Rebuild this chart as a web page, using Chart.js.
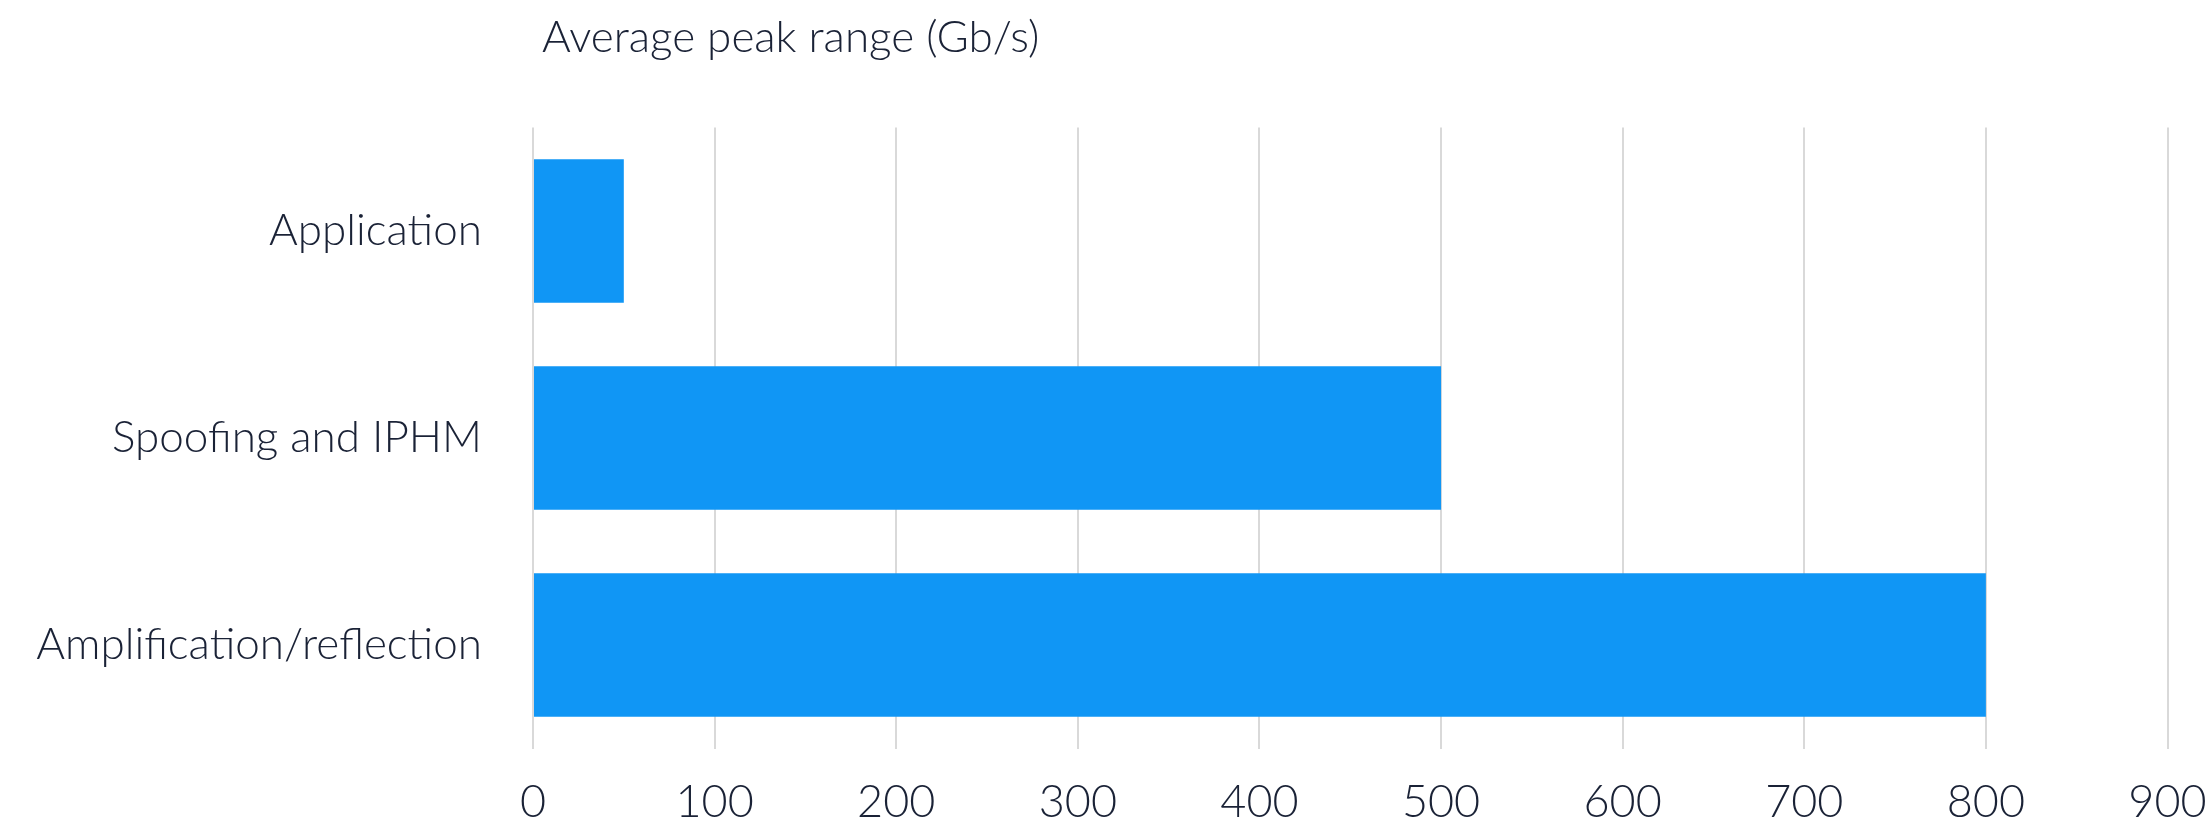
<!DOCTYPE html>
<html><head><meta charset="utf-8">
<script src="https://cdn.jsdelivr.net/npm/chart.js@4/dist/chart.umd.min.js"></script>
<style>html,body{margin:0;padding:0;background:#fff;}#wrap{width:2207px;height:827px;}</style>
</head><body><div id="wrap"><canvas id="c" width="2207" height="827"></canvas></div>
<script>
const categories = ['Application', 'Spoofing and IPHM', 'Amplification/reflection'];
const peakRange = [50, 500, 800];
const xTicks = [0, 100, 200, 300, 400, 500, 600, 700, 800, 900];
const titleText = 'Average peak range (Gb/s)';

const textColor = '#1a2236';
const fontFamily = 'Lato, "Open Sans", sans-serif';

const titlePlugin = {
  id: 'topTitle',
  afterDraw(chart) {
    const ctx = chart.ctx;
    ctx.save();
    ctx.font = '300 44px ' + fontFamily;
    ctx.fillStyle = textColor;
    ctx.textBaseline = 'alphabetic';
    ctx.textAlign = 'left';
    ctx.fillText(titleText, chart.chartArea.left + 9, 52);
    ctx.restore();
  }
};

new Chart(document.getElementById('c'), {
  type: 'bar',
  data: {
    labels: categories,
    datasets: [{
      data: peakRange,
      backgroundColor: '#1096f5',
      borderWidth: 0,
      barPercentage: 0.693,
      categoryPercentage: 1
    }]
  },
  options: {
    indexAxis: 'y',
    responsive: false,
    animation: false,
    layout: { padding: { top: 127.5, right: 39.5, bottom: 0, left: 0 } },
    plugins: { legend: { display: false }, tooltip: { enabled: false }, title: { display: false } },
    scales: {
      x: {
        type: 'linear',
        min: 0,
        max: 900,
        afterBuildTicks: s => { s.ticks = xTicks.map(v => ({ value: v })); },
        afterFit: s => { s.height = 78.5; s.paddingLeft = 0; s.paddingRight = 0; },
        grid: { color: '#d9d9d9', lineWidth: 2, drawTicks: false },
        border: { display: false },
        ticks: { color: textColor, padding: 27, font: { family: fontFamily, size: 45, weight: 300 } }
      },
      y: {
        afterFit: s => { s.width = 533; s.paddingTop = 0; s.paddingBottom = 0; },
        grid: { display: false },
        border: { display: false },
        ticks: { color: textColor, padding: 43, font: { family: fontFamily, size: 44, weight: 300 } }
      }
    }
  },
  plugins: [titlePlugin]
});
</script>
</body></html>
